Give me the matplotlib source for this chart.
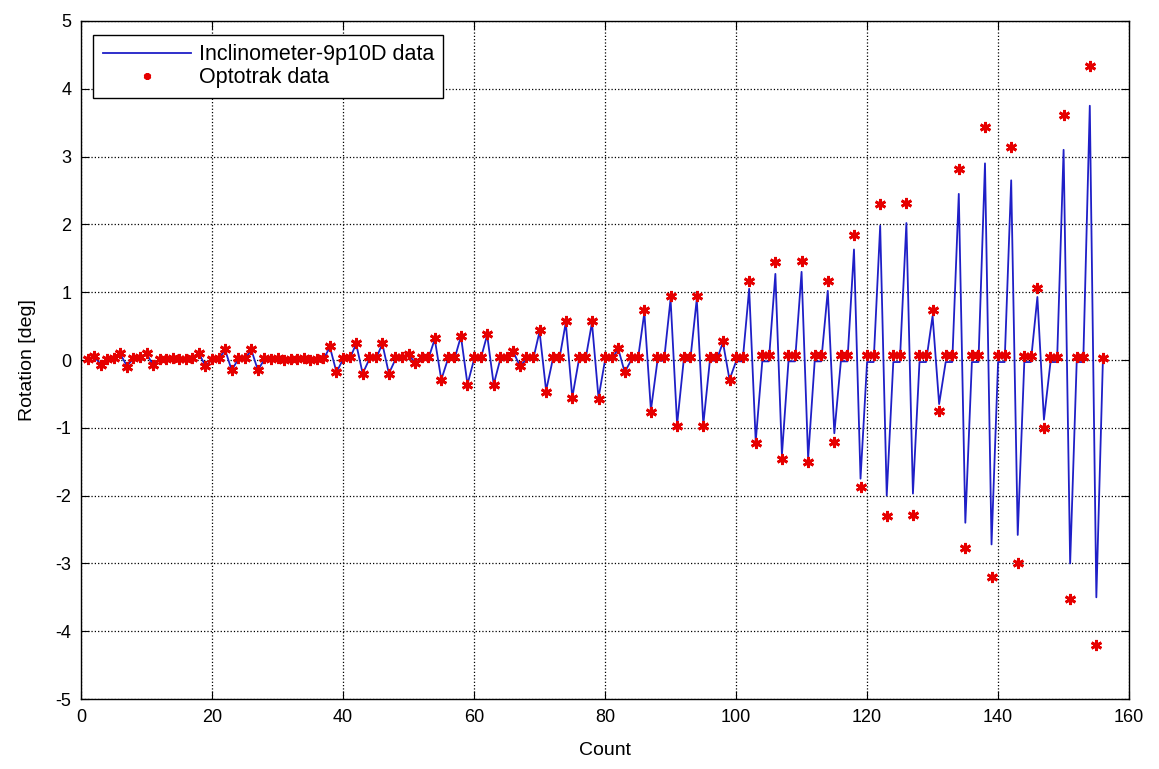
import numpy as np
import matplotlib
matplotlib.use("Agg")
import matplotlib.pyplot as plt

plt.rcParams["font.family"] = ["Liberation Sans", "DejaVu Sans"]
plt.rcParams["axes.unicode_minus"] = False

# sample count (one Optotrak reading and one inclinometer reading per count)
count = list(range(1, 157))

# Optotrak data, counts 1..156
optotrak = [
    0.02, 0.06, -0.07, 0.02,   0.03, 0.10, -0.10, 0.03,
    0.04, 0.10, -0.08, 0.02,   0.02, 0.03, 0.01, 0.02,
    0.03, 0.11, -0.09, 0.02,   0.03, 0.16, -0.15, 0.03,
    0.03, 0.16, -0.15, 0.03,   0.02, 0.03, 0.00, 0.02,
    0.02, 0.03, 0.00, 0.02,    0.03, 0.21, -0.18, 0.03,
    0.04, 0.25, -0.20, 0.04,   0.04, 0.25, -0.20, 0.04,
    0.04, 0.09, -0.04, 0.04,   0.04, 0.33, -0.30, 0.04,
    0.04, 0.36, -0.37, 0.04,   0.04, 0.39, -0.37, 0.04,
    0.04, 0.13, -0.09, 0.04,   0.04, 0.44, -0.47, 0.04,
    0.04, 0.57, -0.56, 0.04,   0.04, 0.57, -0.57, 0.04,
    0.04, 0.18, -0.18, 0.04,   0.05, 0.74, -0.77, 0.05,
    0.05, 0.95, -0.97, 0.05,   0.05, 0.95, -0.97, 0.05,
    0.05, 0.28, -0.30, 0.05,   0.05, 1.17, -1.22, 0.07,
    0.07, 1.44, -1.46, 0.07,   0.07, 1.46, -1.50, 0.07,
    0.07, 1.17, -1.21, 0.07,   0.07, 1.85, -1.88, 0.08,
    0.08, 2.30, -2.30, 0.08,   0.08, 2.31, -2.28, 0.08,
    0.08, 0.74, -0.75, 0.08,   0.08, 2.82, -2.78, 0.08,
    0.08, 3.43, -3.20, 0.08,   0.08, 3.14, -3.00, 0.06,
    0.06, 1.06, -1.00, 0.05,   0.05, 3.62, -3.53, 0.04,
    0.04, 4.33, -4.20, 0.03,
]

# Inclinometer-9p10D data, counts 1..156
inclinometer = [
    0.01, 0.05, -0.06, 0.01,   0.02, 0.09, -0.09, 0.02,
    0.02, 0.09, -0.07, 0.01,   0.01, 0.02, 0.00, 0.01,
    0.01, 0.10, -0.09, 0.01,   0.01, 0.15, -0.15, 0.01,
    0.01, 0.15, -0.15, 0.01,   0.01, 0.02, 0.00, 0.01,
    0.01, 0.02, 0.00, 0.01,    0.01, 0.19, -0.18, 0.01,
    0.01, 0.24, -0.20, 0.01,   0.01, 0.24, -0.20, 0.01,
    0.01, 0.08, -0.04, 0.01,   0.01, 0.31, -0.29, 0.01,
    0.01, 0.35, -0.36, 0.01,   0.01, 0.37, -0.36, 0.01,
    0.01, 0.12, -0.09, 0.01,   0.00, 0.42, -0.45, 0.00,
    0.00, 0.55, -0.55, 0.00,   0.00, 0.55, -0.56, 0.00,
    0.00, 0.17, -0.18, 0.00,   0.00, 0.70, -0.74, -0.01,
    -0.01, 0.90, -0.95, -0.01, -0.01, 0.90, -0.95, -0.01,
    -0.01, 0.26, -0.29, -0.02, -0.02, 1.05, -1.20, -0.02,
    -0.02, 1.27, -1.40, -0.02, -0.02, 1.30, -1.45, -0.02,
    -0.02, 1.02, -1.08, -0.02, -0.02, 1.63, -1.75, -0.03,
    -0.03, 1.98, -2.00, -0.03, -0.03, 2.02, -1.97, -0.03,
    -0.03, 0.65, -0.65, -0.03, -0.03, 2.45, -2.40, -0.03,
    -0.03, 2.90, -2.72, -0.03, -0.03, 2.65, -2.58, -0.03,
    -0.03, 0.93, -0.88, -0.03, -0.03, 3.10, -3.00, -0.03,
    -0.03, 3.75, -3.50, 0.00,
]

xticks = list(range(0, 161, 20))
yticks = list(range(-5, 6))

fig = plt.figure(figsize=(11.59, 7.69), dpi=100)
ax = fig.add_axes([0.0699, 0.091, 0.9043, 0.8817])

ax.plot(count, inclinometer, color=(0.12, 0.12, 0.78), linewidth=1.3,
        label="Inclinometer-9p10D data")
# MATLAB-style asterisk markers
ax.plot(count, optotrak, linestyle="none", marker=(6, 2, 0), markersize=8,
        color="red", markeredgecolor=(0.9, 0.0, 0.0), markeredgewidth=2.0,
        label="Optotrak data")

ax.set_xlim(0, 160)
ax.set_ylim(-5, 5)
ax.set_xticks(xticks)
ax.set_yticks(yticks)
ax.grid(True, linestyle=":", color="black", linewidth=0.9)
ax.tick_params(direction="in", top=True, right=True, labelsize=13, length=6, pad=7)
for s in ax.spines.values():
    s.set_linewidth(1.0)

ax.set_xlabel("Count", fontsize=14, labelpad=12)
ax.set_ylabel("Rotation [deg]", fontsize=14, labelpad=14)

leg = ax.legend(loc="upper left", bbox_to_anchor=(0.0115, 0.98), borderaxespad=0,
                fontsize=15.5, handlelength=4.1, handletextpad=0.35, fancybox=False,
                framealpha=1, edgecolor="black", borderpad=0.45, labelspacing=0.1)
leg.get_frame().set_linewidth(1.0)
leg.legend_handles[1].set_markersize(5)

fig.savefig("out.png", dpi=100)
